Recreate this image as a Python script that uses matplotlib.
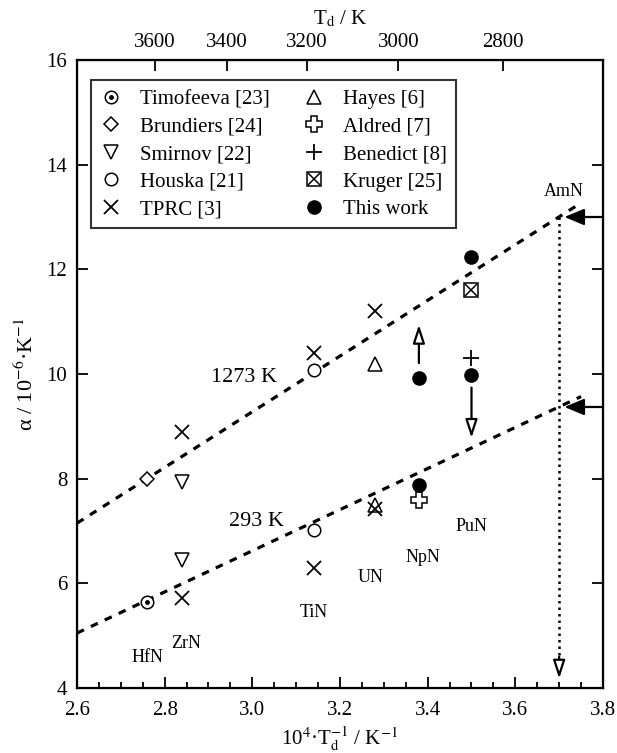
import matplotlib
matplotlib.use("Agg")
import matplotlib.pyplot as plt
from matplotlib.ticker import MultipleLocator, FormatStrFormatter
from matplotlib.legend_handler import HandlerTuple

plt.rcParams["font.family"] = ["Liberation Serif", "DejaVu Serif"]
plt.rcParams["mathtext.fontset"] = "stix"

# data (x = 1e4/Td, y = alpha in 1e-6/K)
timofeeva_x = [2.76]
timofeeva_y = [5.64]
brundiers_x = [2.76]
brundiers_y = [8.0]
smirnov_x = [2.84, 2.84]
smirnov_y = [7.94, 6.45]
houska_x = [3.14, 3.14]
houska_y = [10.08, 7.02]
tprc_x = [2.84, 2.84, 3.14, 3.14, 3.28, 3.28]
tprc_y = [8.9, 5.72, 10.4, 6.29, 11.2, 7.42]
hayes_x = [3.28, 3.28]
hayes_y = [10.2, 7.5]
aldred_x = [3.38]
aldred_y = [7.59]
benedict_x = [3.50]
benedict_y = [10.31]
kruger_x = [3.50]
kruger_y = [11.61]
this_work_x = [3.50, 3.38, 3.50, 3.38]
this_work_y = [12.24, 9.93, 9.98, 7.88]

fit_x = [2.6, 3.75]
fit_1273 = [7.15, 13.27]
fit_293 = [5.05, 9.57]

amn_x = 3.70
amn_1273 = 13.0
amn_293 = 9.37

nitrides = ["HfN", "ZrN", "TiN", "UN", "NpN", "PuN", "AmN"]
nitride_x = [2.76, 2.85, 3.14, 3.27, 3.39, 3.50, 3.71]
nitride_y = [4.59, 4.86, 5.45, 6.12, 6.49, 7.08, 13.48]

td_ticks = [3600, 3400, 3200, 3000, 2800]

fig = plt.figure(figsize=(6.17, 7.53), dpi=100)
ax = fig.add_axes([0.1248, 0.0863, 0.8525, 0.834])

open_kw = dict(linestyle="none", mfc="white", mec="black", mew=1.1, color="black")

ax.plot(fit_x, fit_1273, color="black", lw=2.3, dashes=(2.4, 2.4), zorder=1)
ax.plot(fit_x, fit_293, color="black", lw=2.3, dashes=(2.4, 2.4), zorder=1)

h_tim = ax.plot(timofeeva_x, timofeeva_y, marker="o", ms=9, **open_kw)[0]
h_tim_dot = ax.plot(timofeeva_x, timofeeva_y, marker="o", ms=2.5, linestyle="none", color="black")[0]
h_bru = ax.plot(brundiers_x, brundiers_y, marker="D", ms=7, **open_kw)[0]
h_smi = ax.plot(smirnov_x, smirnov_y, marker="v", ms=10, **open_kw)[0]
h_hou = ax.plot(houska_x, houska_y, marker="o", ms=9, **open_kw)[0]
h_tprc = ax.plot(tprc_x, tprc_y, marker="x", ms=10, mew=1.3, linestyle="none", color="black")[0]
h_hay = ax.plot(hayes_x, hayes_y, marker="^", ms=10, mfc="none", mec="black", mew=1.1, linestyle="none")[0]
h_ald = ax.plot(aldred_x, aldred_y, marker="P", ms=11, **open_kw)[0]
h_ben = ax.plot(benedict_x, benedict_y, marker="+", ms=12, mew=1.3, linestyle="none", color="black")[0]
h_kru = ax.plot(kruger_x, kruger_y, marker="s", ms=10, **open_kw)[0]
h_kru_x = ax.plot(kruger_x, kruger_y, marker="x", ms=8, mew=1.1, linestyle="none", color="black")[0]
h_tw = ax.plot(this_work_x, this_work_y, marker="o", ms=9.5, linestyle="none", color="black")[0]

# AmN extrapolation: dotted drop line with open arrow head
ax.plot([amn_x, amn_x], [amn_1273, 4.6], color="black", lw=1.8, linestyle=(0, (1, 1.6)))
open_head = dict(arrowstyle="-|>,head_length=0.55,head_width=0.18", fc="white", ec="black",
                 lw=1.6, mutation_scale=20, shrinkA=0, shrinkB=0)
ax.annotate("", xy=(amn_x, 4.18), xytext=(amn_x, 4.6), arrowprops=open_head)

# arrows on the PuN / NpN points
ax.annotate("", xy=(3.38, 10.94), xytext=(3.38, 10.21), arrowprops=open_head)
ax.annotate("", xy=(3.50, 8.78), xytext=(3.50, 9.74), arrowprops=open_head)

# arrows from the right edge to the AmN values
solid_head = dict(arrowstyle="-|>,head_length=0.6,head_width=0.25", fc="black", ec="black",
                  lw=1.6, mutation_scale=20, shrinkA=0, shrinkB=0)
for yv in (amn_1273, amn_293):
    ax.annotate("", xy=(3.712, yv), xytext=(3.8, yv), arrowprops=solid_head)

for name, xv, yv in zip(nitrides, nitride_x, nitride_y):
    ax.text(xv, yv, name, ha="center", va="center", fontsize=13)

ax.text(2.98, 9.93, "1273 K", ha="center", va="center", fontsize=16)
ax.text(3.01, 7.19, "293 K", ha="center", va="center", fontsize=16)

ax.set_xlim(2.6, 3.8)
ax.set_ylim(4, 16)
ax.xaxis.set_major_locator(MultipleLocator(0.2))
ax.xaxis.set_minor_locator(MultipleLocator(0.05))
ax.xaxis.set_major_formatter(FormatStrFormatter("%.1f"))
ax.yaxis.set_major_locator(MultipleLocator(2))
ax.yaxis.set_minor_locator(MultipleLocator(0.5))
ax.tick_params(which="both", direction="in", labelsize=15, right=True, top=False, width=1.3)
ax.tick_params(which="major", length=8)
ax.tick_params(which="minor", length=4.5)
ax.tick_params(axis="x", pad=9)
ax.tick_params(axis="y", pad=7)
for sp in ax.spines.values():
    sp.set_linewidth(1.6)

ax.set_xlabel(r"10$^{4}$·T$_{\rm d}^{-1}$ / K$^{-1}$", fontsize=15, labelpad=4)
ax.set_ylabel(r"α / 10$^{-6}$·K$^{-1}$", fontsize=16, labelpad=6)

top = ax.twiny()
top.set_xlim(ax.get_xlim())
top.set_xticks([1e4 / t for t in td_ticks])
top.set_xticklabels([str(t) for t in td_ticks])
top.tick_params(direction="in", length=8, width=1.3, labelsize=15, pad=6)
top.minorticks_off()
top.set_xlabel(r"T$_{\rm d}$ / K", fontsize=15, labelpad=6)

handles = [(h_tim, h_tim_dot), h_bru, h_smi, h_hou, h_tprc,
           h_hay, h_ald, h_ben, (h_kru, h_kru_x), h_tw]
labels = ["Timofeeva [23]", "Brundiers [24]", "Smirnov [22]", "Houska [21]", "TPRC [3]",
          "Hayes [6]", "Aldred [7]", "Benedict [8]", "Kruger [25]", "This work"]
leg = ax.legend(handles, labels, handler_map={tuple: HandlerTuple(ndivide=1, pad=0)},
                ncol=2, loc="upper left", bbox_to_anchor=(0.027, 0.968), borderaxespad=0,
                fontsize=15, frameon=True, fancybox=False, edgecolor="black",
                handlelength=1.0, handletextpad=0.9, columnspacing=1.6,
                labelspacing=0.38, borderpad=0.45)
leg.get_frame().set_linewidth(1.5)

fig.savefig("out.png", dpi=100, facecolor="white")
